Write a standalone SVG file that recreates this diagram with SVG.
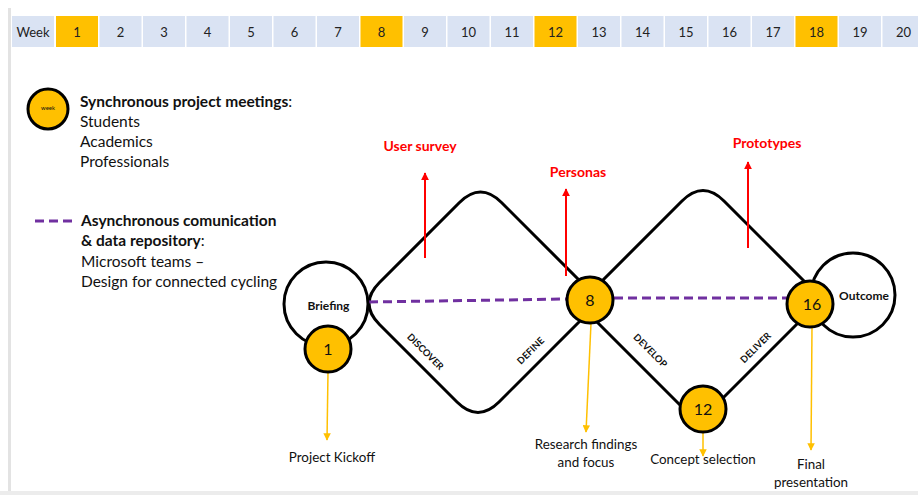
<svg xmlns="http://www.w3.org/2000/svg" width="918" height="495" viewBox="0 0 918 495">
<defs>
<style>
.cell{fill:#DAE3F3}
.hl{fill:#FFC000}
.wk{font-family:Lato,"Liberation Sans",sans-serif;font-size:13px;fill:#222;text-anchor:middle}
.t{font-family:Lato,"Liberation Sans",sans-serif;font-size:15.5px;fill:#111}
.m{font-family:Lato,"Liberation Sans",sans-serif;font-size:13.4px;fill:#111;text-anchor:middle}
.b{font-weight:bold}
.red{font-family:Lato,"Liberation Sans",sans-serif;font-size:14px;font-weight:bold;fill:#FF0000;text-anchor:middle}
.ph{font-family:Lato,"Liberation Sans",sans-serif;font-size:9.5px;font-weight:bold;fill:#111;text-anchor:middle}
.node{fill:#FFC000;stroke:#000;stroke-width:3}
.ring{fill:#fff;stroke:#000;stroke-width:3}
.num{font-family:Lato,"Liberation Sans",sans-serif;font-size:16px;fill:#111;text-anchor:middle}
.edge{fill:none;stroke:#000;stroke-width:3;stroke-linejoin:round}
.async{stroke:#7030A0;stroke-width:3;stroke-dasharray:9 5;fill:none}
.ra{stroke:#FF0000;stroke-width:2;fill:none}
.oa{stroke:#FFC000;stroke-width:1.5;fill:none}
</style>
<marker id="mr" viewBox="0 0 10 10" refX="9" refY="5" markerWidth="4" markerHeight="4" orient="auto"><path d="M0,0 L10,5 L0,10 z" fill="#FF0000"/></marker>
<marker id="mo" viewBox="0 0 10 10" refX="9" refY="5" markerWidth="5" markerHeight="5" orient="auto"><path d="M0,0 L10,5 L0,10 z" fill="#FFC000"/></marker>
</defs>
<rect x="0" y="0" width="918" height="495" fill="#fff"/>
<rect x="8" y="8" width="3" height="487" fill="#e3e3e3"/>
<rect x="0" y="491" width="918" height="4" fill="#ececec"/>

<g id="timeline">
<rect class="cell" x="12" y="16" width="42" height="31"/>
<text class="wk" x="33" y="37">Week</text>
<rect class="hl" x="56" y="16" width="42" height="31"/><text class="wk" x="77" y="37">1</text>
<rect class="cell" x="99.5" y="16" width="42" height="31"/><text class="wk" x="120.5" y="37">2</text>
<rect class="cell" x="143" y="16" width="42" height="31"/><text class="wk" x="164" y="37">3</text>
<rect class="cell" x="186.5" y="16" width="42" height="31"/><text class="wk" x="207.5" y="37">4</text>
<rect class="cell" x="230" y="16" width="42" height="31"/><text class="wk" x="251" y="37">5</text>
<rect class="cell" x="273.5" y="16" width="42" height="31"/><text class="wk" x="294.5" y="37">6</text>
<rect class="cell" x="317" y="16" width="42" height="31"/><text class="wk" x="338" y="37">7</text>
<rect class="hl" x="360.5" y="16" width="42" height="31"/><text class="wk" x="381.5" y="37">8</text>
<rect class="cell" x="404" y="16" width="42" height="31"/><text class="wk" x="425" y="37">9</text>
<rect class="cell" x="447.5" y="16" width="42" height="31"/><text class="wk" x="468.5" y="37">10</text>
<rect class="cell" x="491" y="16" width="42" height="31"/><text class="wk" x="512" y="37">11</text>
<rect class="hl" x="534.5" y="16" width="42" height="31"/><text class="wk" x="555.5" y="37">12</text>
<rect class="cell" x="578" y="16" width="42" height="31"/><text class="wk" x="599" y="37">13</text>
<rect class="cell" x="621.5" y="16" width="42" height="31"/><text class="wk" x="642.5" y="37">14</text>
<rect class="cell" x="665" y="16" width="42" height="31"/><text class="wk" x="686" y="37">15</text>
<rect class="cell" x="708.5" y="16" width="42" height="31"/><text class="wk" x="729.5" y="37">16</text>
<rect class="cell" x="752" y="16" width="42" height="31"/><text class="wk" x="773" y="37">17</text>
<rect class="hl" x="795.5" y="16" width="42" height="31"/><text class="wk" x="816.5" y="37">18</text>
<rect class="cell" x="839" y="16" width="42" height="31"/><text class="wk" x="860" y="37">19</text>
<rect class="cell" x="882.5" y="16" width="42" height="31"/><text class="wk" x="903.5" y="37">20</text>
</g>

<g id="legend">
<circle class="node" cx="48" cy="109" r="20"/>
<text x="48" y="110" font-family="Lato,'Liberation Sans',sans-serif" font-size="6" text-anchor="middle" fill="#111">week</text>
<text class="t" x="80" y="107"><tspan class="b">Synchronous project meetings</tspan>:</text>
<text class="t" x="80" y="127">Students</text>
<text class="t" x="80" y="147">Academics</text>
<text class="t" x="80" y="167">Professionals</text>
<line class="async" x1="35" y1="221" x2="74" y2="221" stroke-dasharray="7 4"/>
<text class="t b" x="81" y="226">Asynchronous comunication</text>
<text class="t" x="81" y="246"><tspan class="b">&amp; data repository</tspan>:</text>
<text class="t" x="81" y="267">Microsoft teams –</text>
<text class="t" x="81" y="287">Design for connected cycling</text>
</g>

<g id="connectors">
<path class="edge" d="M600,301 L501.5,202.5 Q480.5,181.5 459.5,202.5 L379.5,282.5 Q358.5,303.5 379.5,324.5 L457,402 Q478,423 499,402 L600,301"/>
<path class="edge" d="M579,304 L682,201 Q703,180 724,201 L822,299 L698,423 L579,304"/>
<line class="async" x1="369" y1="302" x2="568" y2="299"/>
<line class="async" x1="614" y1="298" x2="790" y2="298"/>
<line class="ra" x1="425" y1="258" x2="425" y2="173" marker-end="url(#mr)"/>
<line class="ra" x1="566" y1="276" x2="566" y2="189" marker-end="url(#mr)"/>
<line class="ra" x1="748" y1="248" x2="748" y2="162" marker-end="url(#mr)"/>
<line class="oa" x1="328" y1="372" x2="327" y2="440" marker-end="url(#mo)"/>
<line class="oa" x1="591" y1="323" x2="586" y2="432" marker-end="url(#mo)"/>
<line class="oa" x1="703" y1="432" x2="703" y2="456" marker-end="url(#mo)"/>
<line class="oa" x1="812" y1="327" x2="811" y2="450" marker-end="url(#mo)"/>
</g>

<g id="phase-labels">
<text class="ph" transform="translate(423,354) rotate(45)">DISCOVER</text>
<text class="ph" transform="translate(533,353) rotate(-45)">DEFINE</text>
<text class="ph" transform="translate(648,353) rotate(45)">DEVELOP</text>
<text class="ph" transform="translate(758,350) rotate(-45)">DELIVER</text>
</g>

<g id="output-labels">
<text class="red" x="420" y="151">User survey</text>
<text class="red" x="578" y="177">Personas</text>
<text class="red" x="767" y="148">Prototypes</text>
</g>

<g id="briefing">
<circle class="ring" cx="326" cy="304" r="42"/>
<text class="b" x="328.5" y="310" text-anchor="middle" font-family="Lato,'Liberation Sans',sans-serif" font-size="12" fill="#111">Briefing</text>
</g>
<g id="outcome">
<circle class="ring" cx="853" cy="295" r="42"/>
<text class="b" x="864" y="300" text-anchor="middle" font-family="Lato,'Liberation Sans',sans-serif" font-size="12" fill="#111">Outcome</text>
</g>
<g id="week1">
<circle class="node" cx="328" cy="349" r="23"/>
<text class="num" x="328" y="355">1</text>
</g>
<g id="week8">
<circle class="node" cx="590" cy="300" r="23"/>
<text class="num" x="590" y="306">8</text>
</g>
<g id="week12">
<circle class="node" cx="703" cy="409" r="23"/>
<text class="num" x="703" y="415">12</text>
</g>
<g id="week16">
<circle class="node" cx="810" cy="304" r="23"/>
<text class="num" x="812" y="310">16</text>
</g>

<g id="milestones">
<text class="m" x="332" y="462">Project Kickoff</text>
<text class="m" x="586" y="449">Research findings</text>
<text class="m" x="586" y="467">and focus</text>
<text class="m" x="703" y="464">Concept selection</text>
<text class="m" x="811" y="469">Final</text>
<text class="m" x="811" y="487">presentation</text>
</g>
</svg>
